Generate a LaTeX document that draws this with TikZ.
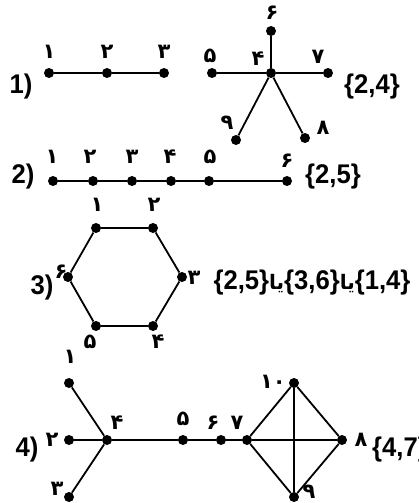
\documentclass[tikz,border=0pt]{standalone}
\usepackage{fontspec}
\setmainfont{Liberation Sans}
\newfontfamily\fa[Script=Arabic]{DejaVu Sans}
\newfontfamily\lat[FakeStretch=0.95]{Liberation Sans}
\TeXXeTstate=1
\tikzset{
  v/.style={circle, fill=black, inner sep=0pt, minimum size=10pt},
  lb/.style={font=\fa\bfseries\fontsize{21}{21}\selectfont, inner sep=0pt},
  tx/.style={font=\lat\bfseries\fontsize{27}{27}\selectfont, inner sep=0pt},
  ed/.style={line width=1.8pt},
}
\newcommand{\yaa}{{\fa\bfseries\fontsize{20}{20}\selectfont\beginR یا\endR}}
\begin{document}
\begin{tikzpicture}[x=1pt,y=-1pt]
\useasboundingbox (0,0) rectangle (418,503);
\clip (0,0) rectangle (418,503);
% ---------- 1)
\node[tx] (t1) at (21,87) {1)};
\node[v] (a1) at (49,73) {};
\node[v] (a2) at (107,73) {};
\node[v] (a3) at (164,73) {};
\node[lb] at (49,52) {۱};
\node[lb] at (107,52) {۲};
\node[lb] at (164,52) {۳};
\draw[ed] (a1) -- (a2) -- (a3);
\node[v] (b4) at (271,73) {};
\node[v] (b6) at (271,31) {};
\node[v] (b5) at (212,73) {};
\node[v] (b7) at (328,73) {};
\node[v] (b9) at (236,140) {};
\node[v] (b8) at (305,138) {};
\draw[ed] (b4) -- (b6) (b4) -- (b5) (b4) -- (b7) (b4) -- (b9) (b4) -- (b8);
\node[lb] at (272,13) {۶};
\node[lb] at (210,56) {۵};
\node[lb] at (258,59) {۴};
\node[lb] at (318,57) {۷};
\node[lb] at (227,123) {۹};
\node[lb] at (323,128) {۸};
\node[tx] (s1) at (372,87) {\{2,4\}};
% ---------- 2)
\node[tx] (t2) at (23,177) {2)};
\node[v] (c1) at (53,181) {};
\node[v] (c2) at (93,181) {};
\node[v] (c3) at (132,181) {};
\node[v] (c4) at (171,181) {};
\node[v] (c5) at (209,181) {};
\node[v] (c6) at (287,181) {};
\draw[ed] (c1) -- (c2) -- (c3) -- (c4) -- (c5) -- (c6);
\node[lb] at (52,157) {۱};
\node[lb] at (90,157) {۲};
\node[lb] at (132,157) {۳};
\node[lb] at (170,157) {۴};
\node[lb] at (210,157) {۵};
\node[lb] at (287,161) {۶};
\node[tx] (s2) at (333,177) {\{2,5\}};
% ---------- 3)
\node[tx] (t3) at (42,288) {3)};
\node[v] (h1) at (96,228) {};
\node[v] (h2) at (153,228) {};
\node[v] (h3) at (182,277) {};
\node[v] (h4) at (153,326) {};
\node[v] (h5) at (96,326) {};
\node[v] (h6) at (68,277) {};
\draw[ed] (h1) -- (h2) -- (h3) -- (h4) -- (h5) -- (h6) -- (h1);
\node[lb] at (97,205) {۱};
\node[lb] at (154,205) {۲};
\node[lb] at (194,278) {۳};
\node[lb] at (158,342) {۴};
\node[lb] at (90,342) {۵};
\node[lb] at (61,272) {۶};
\node[tx] (s3) at (312,283) {\{2,5\}\yaa\{3,6\}\yaa\{1,4\}};
% ---------- 4)
\node[tx] (t4) at (27,450) {4)};
\node[v] (d1) at (69,383) {};
\node[v] (d2) at (69,440) {};
\node[v] (d3) at (69,497) {};
\node[v] (d4) at (107,440) {};
\node[v] (d5) at (183,440) {};
\node[v] (d6) at (221,440) {};
\node[v] (d7) at (247,440) {};
\node[v] (d10) at (294,383) {};
\node[v] (d8) at (342,440) {};
\node[v] (d9) at (294,497) {};
\draw[ed] (d1) -- (d4) (d2) -- (d4) (d3) -- (d4) (d4) -- (d5) -- (d6) -- (d7) -- (d8)
  (d7) -- (d10) -- (d8) -- (d9) -- (d7) (d10) -- (d9);
\node[lb] at (70,357) {۱};
\node[lb] at (52,440) {۲};
\node[lb] at (57,489) {۳};
\node[lb] at (117,423) {۴};
\node[lb] at (183,419) {۵};
\node[lb] at (213,423) {۶};
\node[lb] at (237,423) {۷};
\node[lb] at (273,382) {۱۰};
\node[lb] at (361,440) {۸};
\node[lb] at (309,492) {۹};
\node[tx, anchor=west] (s4) at (372,450) {\{4,7\}};
\end{tikzpicture}
\end{document}
